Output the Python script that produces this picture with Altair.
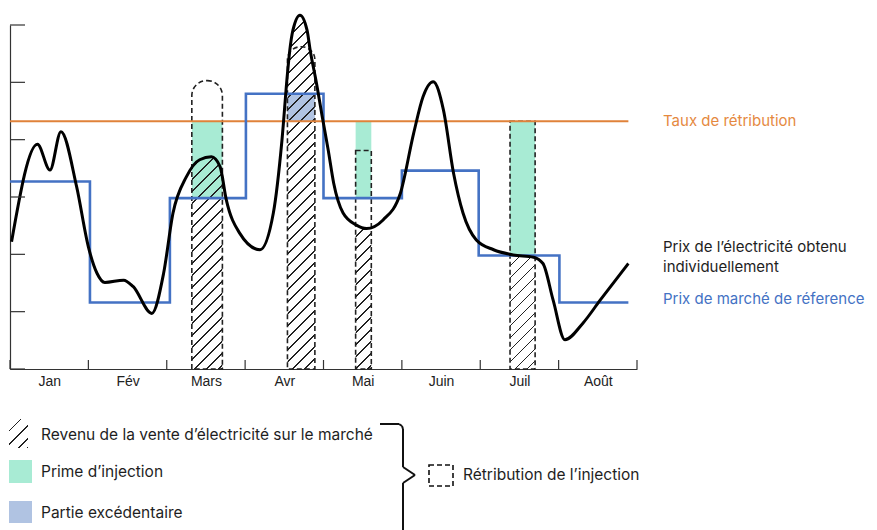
import math
import altair as alt
import pandas as pd

# ---------------- data ----------------
months = ["Jan", "Fév", "Mars", "Avr", "Mai", "Juin", "Juil", "Août"]

# individual price (black curve)
curve_x = [0.02, 0.35, 0.51, 0.65, 0.85, 1.00, 1.11, 1.21, 1.45, 1.57, 1.81, 1.96, 2.08, 2.25,
           2.42, 2.57, 2.68, 2.76, 2.93, 3.19, 3.36, 3.47, 3.54, 3.57, 3.61, 3.70, 3.79, 3.83,
           3.91, 3.98, 4.06, 4.13, 4.25, 4.42, 4.55, 4.76, 4.98, 5.15, 5.27, 5.40, 5.53, 5.66,
           5.78, 5.95, 6.17, 6.42, 6.68, 6.80, 6.93, 7.08, 7.31, 7.53, 7.89]
curve_y = [2.22, 3.92, 3.47, 4.14, 3.18, 2.13, 1.67, 1.51, 1.55, 1.44, 0.97, 1.67, 2.72, 3.35,
           3.65, 3.70, 3.53, 2.95, 2.37, 2.08, 2.72, 3.99, 5.15, 5.56, 5.91, 6.17, 5.91, 5.56,
           4.99, 4.43, 3.82, 3.24, 2.72, 2.51, 2.45, 2.60, 3.06, 4.11, 4.75, 5.01, 4.52, 3.41,
           2.72, 2.25, 2.08, 1.99, 1.95, 1.84, 1.20, 0.51, 0.80, 1.20, 1.84]

# reference market price (blue steps)
step_x = [0.0, 1.02, 2.04, 3.01, 4.00, 5.00, 5.98, 7.01, 7.89]
step_y = [3.27, 1.16, 2.98, 4.80, 2.98, 3.46, 1.98, 1.16, 1.16]

# remuneration rate (orange)
taux_x = [0.0, 7.89]
taux_y = [4.32, 4.32]

# injection columns
bar_names = ["Mars", "Avr", "Mai", "Juil"]
bar_x0 = [2.32, 3.54, 4.41, 6.38]
bar_x1 = [2.71, 3.89, 4.61, 6.70]
outline_top = [5.03, 5.62, 3.81, 4.32]

prime_x0 = [2.32, 4.41, 6.38]
prime_x1 = [2.71, 4.61, 6.70]
prime_lo = [2.98, 2.98, 1.98]
prime_hi = [4.32, 4.32, 4.32]

excess_x0 = [3.54]
excess_x1 = [3.89]
excess_lo = [4.32]
excess_hi = [4.80]

hatch_tops = {
    "Mars": ([2.32, 2.42, 2.57, 2.68, 2.71], [3.46, 3.65, 3.70, 3.53, 3.45]),
    "Avr": ([3.54, 3.57, 3.61, 3.70, 3.79, 3.83, 3.89], [5.15, 5.56, 5.91, 6.17, 5.91, 5.56, 4.95]),
    "Mai": ([4.41, 4.50, 4.55, 4.61], [2.50, 2.46, 2.45, 2.46]),
    "Juil": ([6.38, 6.55, 6.70], [1.99, 1.97, 1.95]),
}

y_ticks = [0, 1, 2, 3, 4, 5, 6]
x_ticks = [0, 1, 2, 3, 4, 5, 6, 7, 8]

# ---------------- layout / style ----------------
W, H = 627, 344
SX, SY = W / 8.0, H / 6.0
FONT = "Inter"
FS = 15.5
ORANGE = "#E0823A"
ORANGE_TXT = "#E5893F"
BLUE = "#4472C4"
GREEN = "#A8EBD4"
EXCESS = "#B0C3E2"
INK = "#1E1E1E"

xs = alt.Scale(domain=[0, 8], nice=False, zero=False)
ys = alt.Scale(domain=[0, 6], nice=False, zero=True)
label_expr = "[" + ",".join("'%s'" % m for m in months) + "][floor(datum.value)]"
x_axis = alt.Axis(
    values=[i + 0.5 for i in range(8)], labelExpr=label_expr, ticks=False, grid=False,
    domainColor="#333333", domainWidth=1.2, labelFont="Liberation Sans", labelFontSize=14,
    labelColor="#222222", labelPadding=5, title=None)
y_axis = alt.Axis(ticks=False, labels=False, grid=False, domainColor="#333333",
                  domainWidth=1.2, title=None)


def X(f):
    return alt.X(f, type="quantitative", scale=xs, axis=x_axis)


def Y(f):
    return alt.Y(f, type="quantitative", scale=ys, axis=y_axis)


def hatch_gradient(w_px, h_px, period=12.0, lw=1.3, color="#222222"):
    r = w_px / h_px
    b = (r + 1) / (r * r + 1)
    a = r * b
    n = (w_px + h_px) / period
    span = (w_px + h_px) / math.sqrt(2)
    f = lw / span
    clear = "rgba(255,255,255,0)"
    stops = []
    k = 0
    while k / n < 1:
        s = k / n
        e = min((k + 1) / n, 1.0)
        m = max(s, e - f)
        stops += [(s, clear), (m, clear), (m, color), (e, color)]
        k += 1
    return alt.LinearGradient(
        gradient="linear", x1=0, y1=0, x2=a, y2=b,
        stops=[alt.GradientStop(color=c, offset=round(o, 5)) for o, c in stops],
    )


one = pd.DataFrame({"k": [0]})
layers = []

# prime (green) and excess (blue-grey) fills
prime_df = pd.DataFrame({"x0": prime_x0, "x1": prime_x1, "lo": prime_lo, "hi": prime_hi})
layers.append(alt.Chart(prime_df).mark_rect(color=GREEN).encode(
    x=X("x0"), x2="x1", y=Y("lo"), y2="hi"))
excess_df = pd.DataFrame({"x0": excess_x0, "x1": excess_x1, "lo": excess_lo, "hi": excess_hi})
layers.append(alt.Chart(excess_df).mark_rect(color=EXCESS).encode(
    x=X("x0"), x2="x1", y=Y("lo"), y2="hi"))

# hatched market revenue
for name, x0, x1 in zip(bar_names, bar_x0, bar_x1):
    hx, hy = hatch_tops[name]
    g = hatch_gradient((x1 - x0) * SX, max(hy) * SY)
    df = pd.DataFrame({"x": hx, "y": hy})
    layers.append(alt.Chart(df).mark_area(fill=g, interpolate="monotone").encode(
        x=X("x"), y=Y("y")))

# dashed outlines (rétribution de l'injection)
radius = {"Mars": 15, "Avr": 13, "Mai": 0, "Juil": 0}
for name, x0, x1, top in zip(bar_names, bar_x0, bar_x1, outline_top):
    df = pd.DataFrame({"x0": [x0], "x1": [x1], "lo": [0], "hi": [top]})
    layers.append(alt.Chart(df).mark_rect(
        fill="transparent", stroke="#222222", strokeWidth=1.6, strokeDash=[5, 3],
        cornerRadiusTopLeft=radius[name], cornerRadiusTopRight=radius[name]
    ).encode(x=X("x0"), x2="x1", y=Y("lo"), y2="hi"))

# orange rate line
taux_df = pd.DataFrame({"x": taux_x, "y": taux_y})
layers.append(alt.Chart(taux_df).mark_line(color=ORANGE, strokeWidth=2).encode(x=X("x"), y=Y("y")))

# blue step line
step_df = pd.DataFrame({"x": step_x, "y": step_y})
layers.append(alt.Chart(step_df).mark_line(color=BLUE, strokeWidth=2.6, interpolate="step-after").encode(
    x=X("x"), y=Y("y")))

# black curve
curve_df = pd.DataFrame({"x": curve_x, "y": curve_y})
layers.append(alt.Chart(curve_df).mark_line(color="black", strokeWidth=3, interpolate="monotone").encode(
    x=X("x"), y=Y("y")))

# inward ticks
layers.append(alt.Chart(pd.DataFrame({"v": y_ticks})).mark_rule(color="#333333", strokeWidth=1.2).encode(
    y=Y("v"), x=alt.value(0), x2=alt.value(15)))
layers.append(alt.Chart(pd.DataFrame({"v": x_ticks})).mark_rule(color="#333333", strokeWidth=1.2).encode(
    x=X("v"), y=alt.value(H), y2=alt.value(H - 9)))


# ---------------- annotations & legend ----------------
def text(s, x, y, color=INK, size=FS):
    return alt.Chart(one).mark_text(text=s, align="left", baseline="middle", font=FONT,
                                    fontSize=size, color=color).encode(x=alt.value(x), y=alt.value(y))


def seg(x1, y1, x2, y2, width=2):
    return alt.Chart(one).mark_rule(color="#111111", strokeWidth=width).encode(
        x=alt.value(x1), y=alt.value(y1), x2=alt.value(x2), y2=alt.value(y2))


layers += [
    text("Taux de rétribution", 653, 96, ORANGE_TXT, 15),
    text("Prix de l’électricité obtenu", 653, 222, INK, 15),
    text("individuellement", 653, 242, INK, 15),
    text("Prix de marché de réference", 653, 274, BLUE, 15),
    text("Revenu de la vente d’électricité sur le marché", 31, 410),
    text("Prime d’injection", 31, 447),
    text("Partie excédentaire", 31, 488),
    text("Rétribution de l’injection", 453, 450),
]

# legend swatches
layers.append(alt.Chart(one).mark_rect(fill=hatch_gradient(19, 29, period=13, lw=1.2)).encode(
    x=alt.value(-1), x2=alt.value(18), y=alt.value(394), y2=alt.value(423)))
layers.append(alt.Chart(one).mark_rect(color=GREEN).encode(
    x=alt.value(-1), x2=alt.value(22), y=alt.value(435), y2=alt.value(458)))
layers.append(alt.Chart(one).mark_rect(color=EXCESS).encode(
    x=alt.value(-1), x2=alt.value(22), y=alt.value(476), y2=alt.value(498)))
layers.append(alt.Chart(one).mark_rect(fill="transparent", stroke="#111111", strokeWidth=1.6,
                                       strokeDash=[5, 3]).encode(
    x=alt.value(419), x2=alt.value(443), y=alt.value(440), y2=alt.value(461)))

# brace
layers += [
    seg(370, 399, 389, 399),
    seg(389, 399, 392, 401),
    seg(392, 401, 393, 404),
    seg(393, 404, 393, 442),
    seg(393, 442, 405, 450),
    seg(405, 450, 393, 458),
    seg(393, 458, 393, 510),
]

chart = alt.layer(*layers).properties(
    width=W, height=H,
    padding={"left": 2, "top": 17, "right": 232, "bottom": 161},
    autosize=alt.AutoSizeParams(type="none"),
).configure_view(stroke=None)

chart.save("out.html", embed_options={"renderer": "svg", "actions": False})
